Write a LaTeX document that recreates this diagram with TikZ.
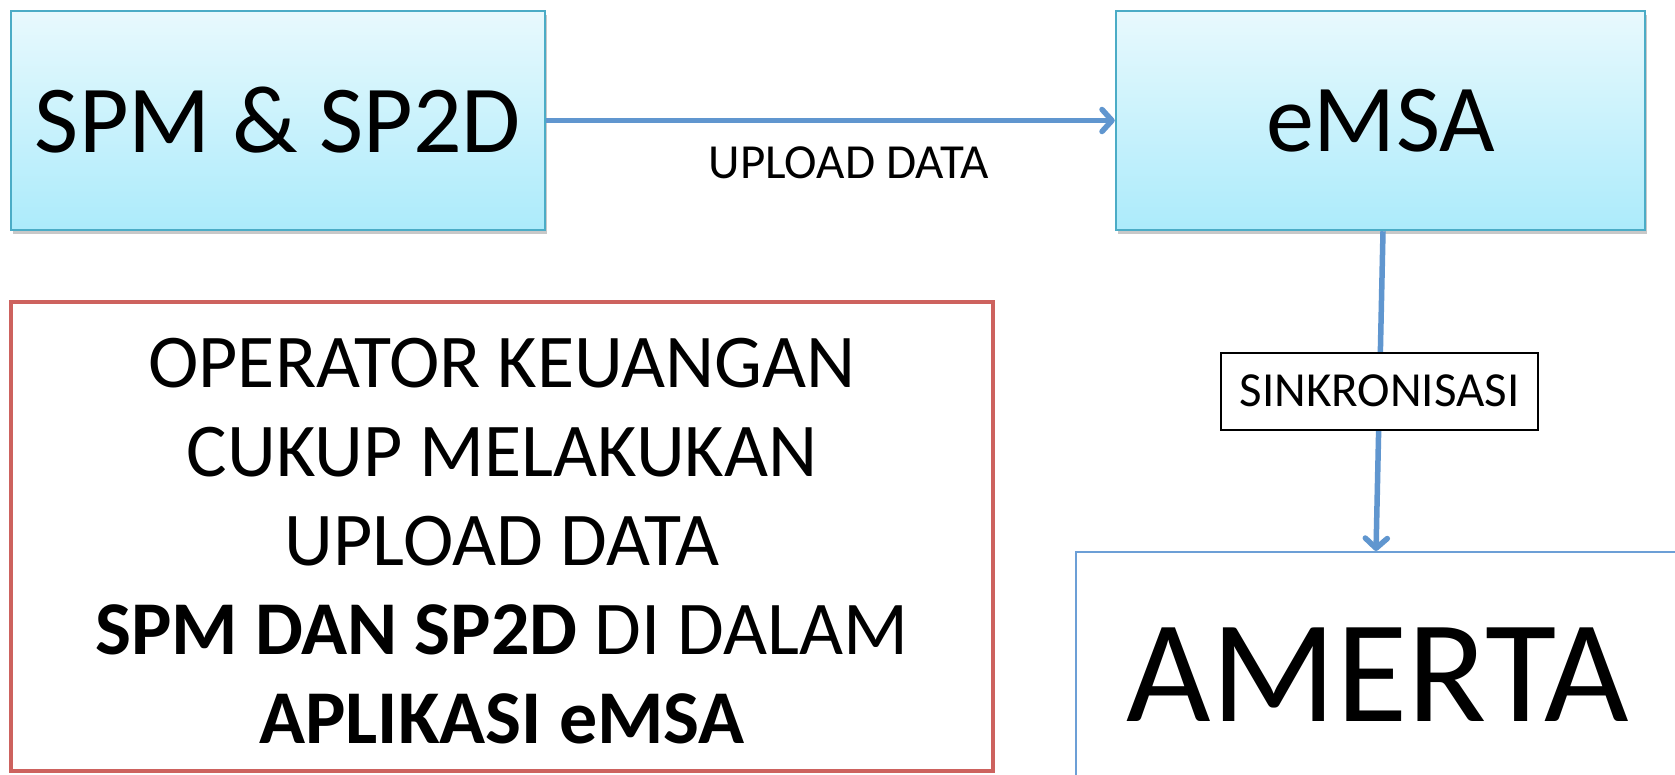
\documentclass[tikz,border=0pt]{standalone}
\usepackage{fontspec}
\setmainfont{Carlito}
\usetikzlibrary{arrows.meta,shadows}
\definecolor{boxline}{HTML}{4BACC6}
\definecolor{boxtop}{HTML}{E8F9FD}
\definecolor{boxbot}{HTML}{ACEBFB}
\definecolor{arrowblue}{HTML}{6096CF}
\definecolor{notered}{HTML}{CD625E}
\definecolor{amertaline}{HTML}{6C9FD6}
\tikzset{
  bluebox/.style={draw=boxline, line width=2.5pt, top color=boxtop, bottom color=boxbot,
    minimum height=219pt, inner sep=0pt, font=\fontsize{96}{110}\selectfont,
    drop shadow={shadow xshift=1.5pt, shadow yshift=-4pt, opacity=0.3, fill=black!70}},
  flowarrow/.style={draw=arrowblue, line width=5.5pt,
    -{Straight Barb[length=10pt,width=22pt,round]}},
  labeltext/.style={font=\fontsize{49}{58}\selectfont, inner sep=0pt},
  syncbox/.style={draw=black, line width=2pt, fill=white, minimum width=317pt,
    minimum height=77pt, inner sep=0pt, font=\fontsize{49}{58}\selectfont},
  notebox/.style={draw=notered, line width=4pt, minimum width=982pt, minimum height=469pt, inner sep=0pt},
  notetext/.style={font=\fontsize{76}{89}\selectfont, align=center, inner sep=0pt},
  amertabox/.style={draw=amertaline, line width=2pt, fill=white, minimum width=604pt,
    minimum height=246pt, inner sep=0pt, font=\fontsize{146}{160}\selectfont,
    drop shadow={shadow xshift=1pt, shadow yshift=-3pt, opacity=0.15, fill=black}}
}
\begin{document}
\begin{tikzpicture}[x=1pt,y=-1pt]
\useasboundingbox (0,0) rectangle (1675,774);
\fill[white] (0,0) rectangle (1675,774);
\clip (0,0) rectangle (1675,774);
\node[bluebox, minimum width=534pt] (spm) at (278,120.5) {SPM \& SP2D};
\node[bluebox, minimum width=529pt] (emsa) at (1380.5,120.5) {eMSA};
\node[amertabox] (amerta) at (1378,675) {AMERTA};
\node[notebox] (note) at (502,536.5) {};
\node[notetext] (notetxt) at (502,541) {OPERATOR KEUANGAN\\CUKUP MELAKUKAN\\UPLOAD DATA\\\textbf{SPM DAN SP2D} DI DALAM\\\textbf{APLIKASI eMSA}};
\draw[flowarrow] (spm.east) -- node[labeltext, pos=0.532, yshift=-42pt] (upl) {UPLOAD DATA} (emsa.west);
\draw[flowarrow] ([xshift=2.5pt]emsa.south) -- node[syncbox] (sync) {SINKRONISASI} ([xshift=-2pt]amerta.north);
\end{tikzpicture}
\end{document}
